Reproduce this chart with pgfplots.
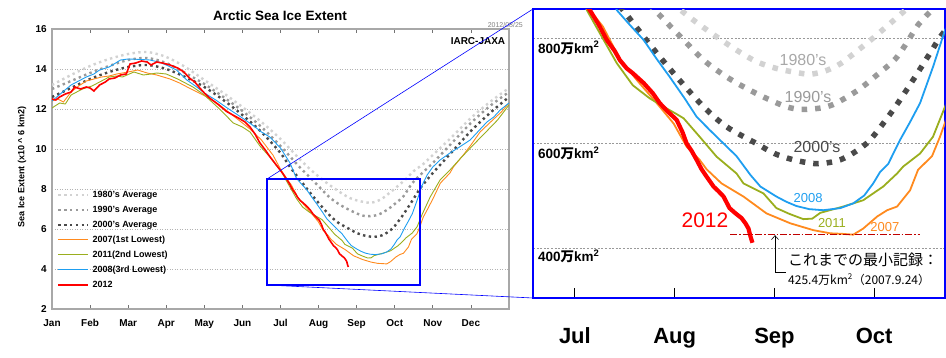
\documentclass[border=0pt]{standalone}
\usepackage{pgfplots}
\pgfplotsset{compat=1.18}
\usepackage{pgfplotstable}
\usepackage{fontspec}
\setmainfont{Liberation Sans}
\newfontfamily\cjk{Noto Sans CJK JP}
\usetikzlibrary{arrows.meta}

\definecolor{c80}{HTML}{D2D2D2}
\definecolor{c90}{HTML}{9A9A9A}
\definecolor{c00}{HTML}{4A4A4A}
\definecolor{c07}{HTML}{FF8A1E}
\definecolor{c11}{HTML}{9AAE1E}
\definecolor{c08}{HTML}{1E9EF0}
\definecolor{c12}{HTML}{FF0000}
\definecolor{framegray}{HTML}{A8A8A8}
\definecolor{recred}{HTML}{C00000}

\pgfplotstableread{
m v
0 13.2
0.5 13.7
1 14.15
1.5 14.5
2 14.75
2.5 14.85
3 14.6
3.5 14.1
4 13.45
4.5 12.8
5 12.1
5.5 11.35
6 10.5
6.5 9.5
6.8 8.95
7.12 8.44
7.37 8.09
7.62 7.77
7.82 7.55
8.02 7.42
8.2 7.35
8.36 7.31
8.52 7.38
8.67 7.52
8.84 7.77
8.99 8.0
9.18 8.31
9.31 8.53
9.5 8.9
9.75 9.25
10 9.7
10.5 10.6
11 11.55
11.5 12.35
12 13.05
}\tEighty

\pgfplotstableread{
m v
0 13.0
0.5 13.4
1 13.8
1.5 14.15
2 14.45
2.5 14.55
3 14.3
3.5 13.8
4 13.25
4.5 12.6
5 11.9
5.5 11.1
6 10.15
6.5 9.1
6.8 8.53
7.04 8.06
7.29 7.58
7.52 7.26
7.72 7.04
7.92 6.85
8.12 6.69
8.26 6.64
8.39 6.65
8.5 6.68
8.62 6.76
8.84 7.01
9.03 7.30
9.23 7.64
9.44 8.25
9.53 8.44
9.75 8.85
10 9.3
10.5 10.3
11 11.3
11.5 12.15
12 12.85
}\tNinety

\pgfplotstableread{
m v
0 12.6
0.5 13.05
1 13.5
1.5 13.85
2 14.1
2.5 14.2
3 14.0
3.5 13.6
4 13.1
4.5 12.45
5 11.7
5.5 10.85
6 9.8
6.25 9.1
6.52 8.44
6.77 7.83
7.02 7.26
7.29 6.69
7.52 6.31
7.82 5.99
8.0 5.8
8.19 5.68
8.39 5.61
8.52 5.62
8.66 5.68
8.8 5.82
8.96 6.06
9.19 6.63
9.39 7.2
9.56 7.71
9.69 8.09
10 8.8
10.5 9.85
11 10.9
11.5 11.8
12 12.6
}\tTwoK

\pgfplotstableread{
m v
0 12.4
0.15 12.5
0.3 12.35
0.5 12.85
0.7 13.15
0.9 13.4
1.1 13.5
1.3 13.6
1.5 13.65
1.7 13.75
2.0 13.85
2.25 13.95
2.5 13.8
2.75 13.7
3.1 13.5
3.35 13.3
3.6 13.05
3.97 12.7
4.2 12.45
4.4 12.2
4.6 11.9
4.8 11.6
5.0 11.3
5.2 11.0
5.5 10.45
5.8 9.7
6.0 9.0
6.15 8.53
6.28 8.22
6.45 7.6
6.62 7.2
6.82 6.76
6.99 6.37
7.12 5.93
7.25 5.68
7.32 5.5
7.47 5.23
7.69 4.98
7.92 4.66
8.16 4.47
8.39 4.34
8.56 4.28
8.68 4.27
8.79 4.254
8.89 4.37
9.03 4.60
9.13 4.72
9.23 4.79
9.36 5.10
9.44 5.49
9.58 5.75
9.66 6.12
9.75 6.6
9.85 6.95
10.0 7.5
10.2 8.3
10.45 8.8
10.54 9.1
10.8 9.7
11.0 10.2
11.24 10.85
11.6 11.5
11.8 11.85
12.0 12.3
}\tSeven

\pgfplotstableread{
m v
0 12.05
0.2 12.3
0.35 12.25
0.5 12.7
0.8 13.0
1.05 13.15
1.25 13.35
1.5 13.6
1.7 13.65
1.85 13.6
2.15 13.85
2.4 13.7
2.6 13.75
2.75 13.8
3.0 13.75
3.3 13.5
3.7 13.1
4.0 12.7
4.4 12.0
4.76 11.3
5.0 11.1
5.2 10.85
5.46 10.15
5.72 9.6
5.9 9.15
6.0 8.95
6.12 8.53
6.25 8.09
6.42 7.52
6.58 7.10
6.75 6.85
6.89 6.69
7.02 6.55
7.09 6.47
7.25 6.12
7.42 5.74
7.62 5.42
7.69 5.23
7.89 5.04
8.02 4.76
8.15 4.65
8.29 4.55
8.38 4.56
8.46 4.67
8.69 4.79
8.89 4.91
9.09 5.17
9.23 5.42
9.29 5.55
9.46 5.80
9.59 6.12
9.71 6.69
9.93 7.6
10.19 8.45
10.45 8.95
10.71 9.5
11.06 10.2
11.42 10.9
11.7 11.45
12.0 12.2
}\tEleven

\pgfplotstableread{
m v
0 12.4
0.25 12.8
0.5 13.2
0.7 13.4
0.9 13.6
1.1 13.75
1.25 13.95
1.5 14.1
1.8 14.45
2.0 14.5
2.3 14.48
2.57 14.45
2.8 14.35
3.0 14.2
3.27 13.95
3.54 13.45
3.8 13.1
4.0 12.8
4.3 12.45
4.6 12.05
5.0 11.55
5.3 11.15
5.5 10.85
5.72 10.6
6.0 10.05
6.25 9.3
6.42 8.53
6.55 8.25
6.69 7.96
6.82 7.6
6.95 7.26
7.1 6.85
7.22 6.50
7.35 6.25
7.49 5.99
7.62 5.75
7.76 5.39
7.86 5.17
8.02 4.98
8.12 4.88
8.22 4.80
8.35 4.74
8.49 4.72
8.66 4.76
8.79 4.85
8.9 5.0
8.99 5.23
9.06 5.45
9.14 5.6
9.26 6.06
9.36 6.4
9.46 6.76
9.59 7.45
9.71 8.15
9.85 8.7
10.0 9.1
10.19 9.45
10.45 9.8
10.7 10.1
10.98 10.45
11.2 10.9
11.42 11.35
11.6 11.6
11.77 11.95
12.0 12.3
}\tEight

\pgfplotstableread{
m v
0 12.5
0.1 12.45
0.2 12.6
0.35 12.75
0.5 12.85
0.6 13.1
0.75 13.0
0.9 13.1
1.0 13.05
1.1 12.9
1.25 13.2
1.4 13.35
1.5 13.5
1.65 13.55
1.8 13.7
1.95 13.75
2.05 14.25
2.2 14.3
2.35 14.4
2.5 14.35
2.6 14.2
2.75 14.35
2.9 14.3
3.1 14.2
3.3 14.05
3.45 13.87
3.62 13.53
3.75 13.35
3.89 13.03
4.0 12.8
4.15 12.53
4.35 12.25
4.59 11.87
4.75 11.7
4.94 11.5
5.07 11.35
5.2 11.1
5.33 10.75
5.46 10.3
5.6 9.95
5.72 9.62
5.85 9.3
5.99 8.95
6.07 8.75
6.15 8.53
6.24 8.25
6.32 7.96
6.4 7.75
6.45 7.58
6.52 7.42
6.58 7.33
6.69 7.14
6.78 6.95
6.85 6.76
6.93 6.6
7.02 6.44
7.08 6.2
7.12 5.99
7.17 5.85
7.22 5.68
7.27 5.5
7.32 5.36
7.39 5.17
7.44 5.08
7.49 4.98
7.55 4.76
7.61 4.66
7.67 4.57
7.71 4.47
7.74 4.37
7.76 4.22
7.78 4.10
}\tTwelve

\begin{document}
\begin{tikzpicture}[x=1pt,y=1pt]
\useasboundingbox (0,0) rectangle (946,357);

% ---------------- left chart ----------------
\begin{axis}[
  at={(52pt,48pt)}, anchor=south west, scale only axis,
  width=457pt, height=280pt,
  xmin=0, xmax=12, ymin=2, ymax=16,
  /pgf/number format/assume math mode=true,
  xtick={0,1,...,11},
  xticklabels={Jan,Feb,Mar,Apr,May,Jun,Jul,Aug,Sep,Oct,Nov,Dec},
  ytick={2,4,...,16},
  ymajorgrids,
  grid style={gray!60, dash pattern=on 1pt off 1.5pt, line width=0.5pt},
  tick align=inside, major tick length=4pt,
  xtick style={black!55, line width=0.8pt},
  ytick style={draw=none},
  axis line style={framegray, line width=1.2pt},
  xticklabel style={font=\bfseries\fontsize{10}{12}\selectfont, anchor=base, yshift=-17.5pt},
  yticklabel style={font=\bfseries\fontsize{10}{12}\selectfont, anchor=east, inner sep=0pt, xshift=-5pt},
  legend cell align=left,
  legend image code/.code={\draw[#1] (0pt,0pt) -- (30pt,0pt);},
  legend style={at={(0.0110,0.428)}, anchor=north west, draw=none, fill=none,
    inner sep=0pt, row sep=4pt, column sep=2pt,
    font=\bfseries\fontsize{9}{11}\selectfont,
    nodes={inner sep=1pt, text height=7pt, text depth=2pt}},
]
\addplot[c80, line width=2.4pt, dash pattern=on 2.4pt off 3.4pt, smooth] table[x=m,y=v]{\tEighty};
\addlegendentry{1980's Average}
\addplot[c90, line width=2.4pt, dash pattern=on 2.4pt off 3.4pt, smooth] table[x=m,y=v]{\tNinety};
\addlegendentry{1990's Average}
\addplot[c00, line width=2.4pt, dash pattern=on 2.4pt off 3.4pt, smooth] table[x=m,y=v]{\tTwoK};
\addlegendentry{2000's Average}
\addplot[c07, line width=0.9pt] table[x=m,y=v]{\tSeven};
\addlegendentry{2007(1st Lowest)}
\addplot[c11, line width=0.9pt] table[x=m,y=v]{\tEleven};
\addlegendentry{2011(2nd Lowest)}
\addplot[c08, line width=0.9pt] table[x=m,y=v]{\tEight};
\addlegendentry{2008(3rd Lowest)}
\addplot[c12, line width=1.6pt] table[x=m,y=v]{\tTwelve};
\addlegendentry{2012}
\draw[blue, line width=2.6pt] (axis cs:5.646,3.2) rectangle (axis cs:9.664,8.5);
\end{axis}

% ---------------- right zoom panel ----------------
\begin{axis}[
  at={(533pt,59pt)}, anchor=south west, scale only axis,
  width=412pt, height=289pt,
  xmin=5.58, xmax=9.71, ymin=3.048, ymax=8.552,
  /pgf/number format/assume math mode=true,
  xtick={6,7,8,9}, xticklabels={Jul,Aug,Sep,Oct},
  xtick pos=lower, tick align=inside, major tick length=10pt,
  xtick style={black, line width=0.9pt},
  ytick={4,6,8}, yticklabels={}, ytick style={draw=none},
  ymajorgrids,
  grid style={gray!80, dash pattern=on 2pt off 1.6pt, line width=0.7pt},
  axis line style={blue, line width=2.6pt},
  xticklabel style={font=\bfseries\fontsize{22}{26}\selectfont, anchor=base, yshift=-45pt},
]
\addplot[c80, line width=5.5pt, dash pattern=on 5.5pt off 8pt, smooth] table[x=m,y=v]{\tEighty};
\addplot[c90, line width=5.5pt, dash pattern=on 5.5pt off 8pt, smooth] table[x=m,y=v]{\tNinety};
\addplot[c00, line width=5.5pt, dash pattern=on 5.5pt off 8pt, smooth] table[x=m,y=v]{\tTwoK};
\addplot[c07, line width=1.8pt] table[x=m,y=v]{\tSeven};
\addplot[c11, line width=1.8pt] table[x=m,y=v]{\tEleven};
\addplot[c08, line width=1.8pt] table[x=m,y=v]{\tEight};
\addplot[c12, line width=4.2pt] table[x=m,y=v]{\tTwelve};

\node[font=\bfseries\fontsize{13.5}{15}\selectfont, anchor=base west, inner sep=0pt] at (axis cs:5.63,7.71) {800{\cjk 万}km\textsuperscript{2}};
\node[font=\bfseries\fontsize{13.5}{15}\selectfont, anchor=base west, inner sep=0pt] at (axis cs:5.63,5.71) {600{\cjk 万}km\textsuperscript{2}};
\node[font=\bfseries\fontsize{13.5}{15}\selectfont, anchor=base west, inner sep=0pt] at (axis cs:5.63,3.74) {400{\cjk 万}km\textsuperscript{2}};

\node[font=\fontsize{16}{18}\selectfont, text=c80!80!black] at (axis cs:8.287,7.58) {1980's};
\node[font=\fontsize{16}{18}\selectfont, text=c90] at (axis cs:8.337,6.876) {1990's};
\node[font=\fontsize{16}{18}\selectfont, text=c00] at (axis cs:8.427,5.924) {2000's};
\node[font=\fontsize{13}{15}\selectfont, text=c08] at (axis cs:8.337,4.952) {2008};
\node[font=\fontsize{13}{15}\selectfont, text=c11] at (axis cs:8.577,4.476) {2011};
\node[font=\fontsize{13}{15}\selectfont, text=c07] at (axis cs:9.108,4.40) {2007};
\node[font=\fontsize{21}{24}\selectfont, text=c12] at (axis cs:7.304,4.533) {2012};

\draw[recred, line width=0.8pt, dash pattern=on 7pt off 2pt on 1.5pt off 2pt] (axis cs:7.555,4.254) -- (axis cs:9.459,4.254);
\draw[line width=0.6pt, -{Straight Barb[length=4pt,width=7pt]}] (axis cs:8.116,3.543) -- (axis cs:8.006,3.543) -- (axis cs:8.006,4.245);
\node[font=\cjk\fontsize{15}{17}\selectfont, anchor=base west, inner sep=0pt] at (axis cs:8.136,3.676) {これまでの最小記録：};
\node[font=\cjk\fontsize{12}{14}\selectfont, anchor=base west, inner sep=0pt] at (axis cs:8.136,3.31) {425.4万km\textsuperscript{2}（2007.9.24）};
\end{axis}

% ---------------- titles and zoom lines ----------------
\node[font=\bfseries\fontsize{13.5}{15}\selectfont] at (280,341) {Arctic Sea Ice Extent};
\node[font=\fontsize{7}{8}\selectfont, text=gray, anchor=base east, inner sep=0pt] at (523,329) {2012/08/25};
\node[font=\bfseries\fontsize{10}{12}\selectfont] at (478,316) {IARC-JAXA};
\node[font=\bfseries\fontsize{9}{11}\selectfont, rotate=90] at (22,190) {Sea Ice Extent (x10 \textasciicircum\ 6 km2)};
\draw[blue, line width=0.6pt] (267,178) -- (533,348);
\draw[blue, line width=0.6pt] (267,72) -- (533,59);
\end{tikzpicture}
\end{document}
